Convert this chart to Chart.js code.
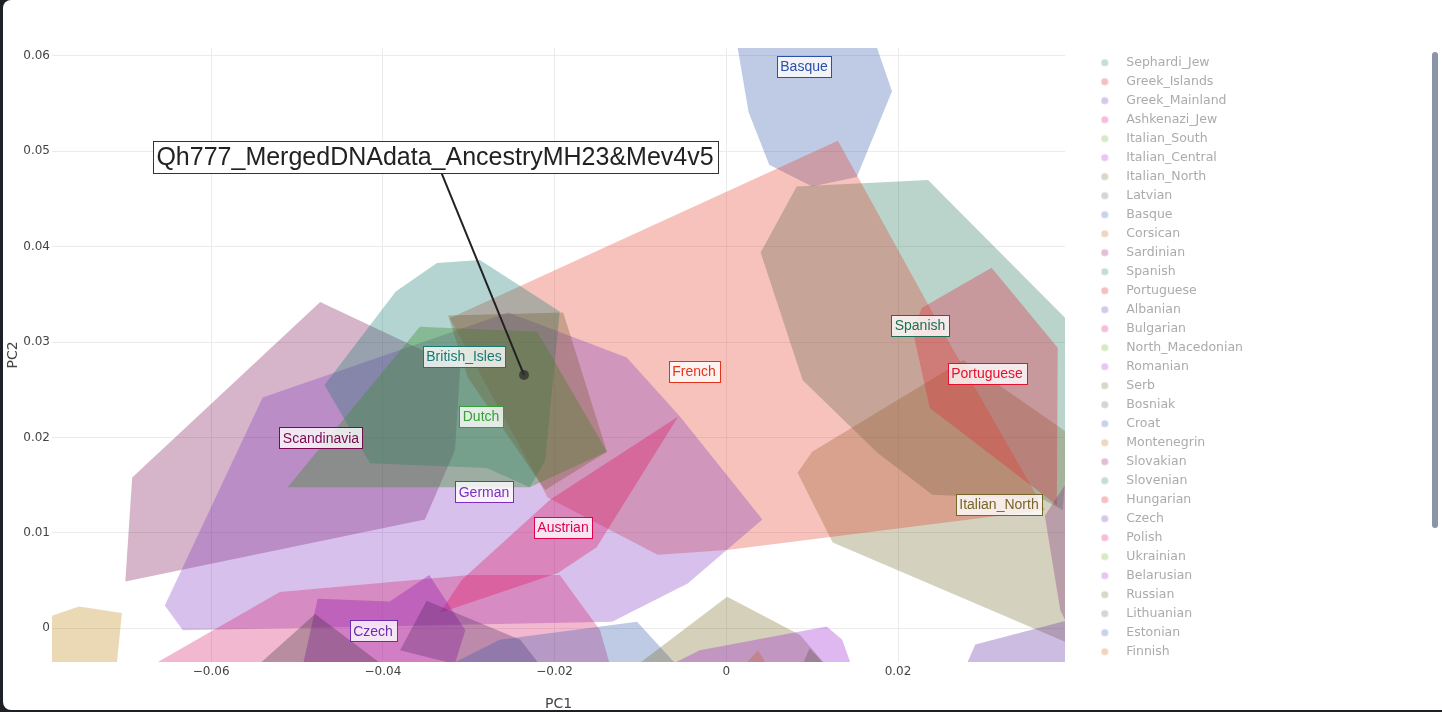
<!DOCTYPE html>
<html>
<head>
<meta charset="utf-8">
<title>PCA hulls</title>
<script src="https://cdn.jsdelivr.net/npm/chart.js@4.4.1/dist/chart.umd.min.js"></script>
<style>
  html, body { margin: 0; padding: 0; background: #1d2025; width: 1442px; height: 712px; overflow: hidden; }
  .card { position: absolute; left: 3px; top: 0; width: 1450px; height: 710px; background: #fff; border-radius: 8px; }
  .scroll { position: absolute; left: 1432px; top: 52px; width: 6px; height: 476px; background: #8b94a8; border-radius: 3px; }
  #chart { position: absolute; left: 0; top: 0; }
</style>
</head>
<body>
<div class="card"></div>
<div class="scroll"></div>
<canvas id="chart" width="1442" height="712"></canvas>
<script>
// axes
const xTicks = [-0.06, -0.04, -0.02, 0, 0.02];
const yTicks = [0, 0.01, 0.02, 0.03, 0.04, 0.05, 0.06];

// legend entries (these traces are switched off, so they show faded)
const legendNames = ['Sephardi_Jew', 'Greek_Islands', 'Greek_Mainland', 'Ashkenazi_Jew', 'Italian_South',
  'Italian_Central', 'Italian_North', 'Latvian', 'Basque', 'Corsican', 'Sardinian', 'Spanish', 'Portuguese',
  'Albanian', 'Bulgarian', 'North_Macedonian', 'Romanian', 'Serb', 'Bosniak', 'Croat', 'Montenegrin',
  'Slovakian', 'Slovenian', 'Hungarian', 'Czech', 'Polish', 'Ukrainian', 'Belarusian', 'Russian',
  'Lithuanian', 'Estonian', 'Finnish'];
const legendPalette = ['#c3ded5', '#f5c0c0', '#d5c8e8', '#f6bddc', '#d5eac7', '#e9c5f3', '#dad7c6',
  '#d5d5d5', '#c8d3ea', '#efd6bf', '#e0c0d6'];

// convex hulls, [PC1, PC2] vertices
const finnishHull = [[-0.0799, 0.0009], [-0.0754, 0.0023], [-0.0704, 0.0016], [-0.0713, -0.0065], [-0.0799, -0.0065]];
const basqueHull = [[0.0008, 0.0636], [0.0165, 0.0636], [0.0193, 0.0563], [0.0152, 0.0473], [0.0100, 0.0463], [0.0050, 0.0486], [0.0026, 0.0541]];
const frenchHull = [[-0.0322, 0.0325], [0.0130, 0.0511], [0.0258, 0.0302], [0.0371, 0.0124], [0.0001, 0.0082], [-0.0080, 0.0077], [-0.0208, 0.0137]];
const spanishHull = [[0.0082, 0.0463], [0.0235, 0.0470], [0.0395, 0.0325], [0.0406, 0.0302], [0.0392, 0.0124], [0.0369, 0.0135], [0.0240, 0.0140], [0.0176, 0.0184], [0.0089, 0.0260], [0.0040, 0.0394]];
const portugueseHull = [[0.0309, 0.0378], [0.0386, 0.0294], [0.0385, 0.0129], [0.0369, 0.0140], [0.0237, 0.0231], [0.0217, 0.0313], [0.0228, 0.0336]];
const italianNorthHull = [[0.0083, 0.0163], [0.0100, 0.0185], [0.0276, 0.0281], [0.0418, 0.0192], [0.0418, -0.0023], [0.0124, 0.0090]];
const britishHull = [[-0.0468, 0.0255], [-0.0385, 0.0353], [-0.0337, 0.0383], [-0.0287, 0.0386], [-0.0194, 0.0332], [-0.0211, 0.0176], [-0.0229, 0.0148], [-0.0279, 0.0168], [-0.0415, 0.0173]];
const dutchHull = [[-0.0511, 0.0148], [-0.0357, 0.0316], [-0.0220, 0.0311], [-0.0139, 0.0185], [-0.0229, 0.0148]];
const oliveMidHull = [[-0.0324, 0.0328], [-0.0190, 0.0331], [-0.0139, 0.0185], [-0.0211, 0.0145], [-0.0301, 0.0263]];
const scandinaviaHull = [[-0.0700, 0.0049], [-0.0692, 0.0158], [-0.0473, 0.0342], [-0.0310, 0.0273], [-0.0316, 0.0187], [-0.0351, 0.0114]];
const germanHull = [[-0.0540, 0.0242], [-0.0254, 0.0331], [-0.0116, 0.0284], [-0.0054, 0.0222], [0.0042, 0.0114], [-0.0045, 0.0047], [-0.0133, 0.0007], [-0.0633, -0.0002], [-0.0654, 0.0024]];
const polishHull = [[-0.0741, -0.0076], [-0.0520, 0.0038], [-0.0299, 0.0056], [-0.0194, 0.0056], [-0.0147, -0.0002], [-0.0124, -0.0075]];
const austrianHull = [[-0.0056, 0.0222], [-0.0151, 0.0085], [-0.0196, 0.0058], [-0.0334, 0.0016], [-0.0308, 0.0051], [-0.0205, 0.0135]];
const czechHull = [[-0.0476, 0.0031], [-0.0392, 0.0028], [-0.0346, 0.0056], [-0.0304, -0.0002], [-0.0322, -0.0054], [-0.0497, -0.0054]];
const darkHullA = [[-0.0578, -0.0065], [-0.0479, 0.0015], [-0.0392, -0.0044]];
const darkHullB = [[-0.0380, -0.0023], [-0.0349, 0.0029], [-0.0240, -0.0012], [-0.0194, -0.0065]];
const blueLowHull = [[-0.0357, -0.0054], [-0.0264, -0.0012], [-0.0104, 0.0007], [-0.0042, -0.0054]];
const oliveLowHull = [[-0.0112, -0.0044], [0.0001, 0.0033], [0.0086, -0.0007], [0.0121, -0.0044]];
const violetLowHull = [[-0.0124, -0.0065], [-0.0031, -0.0023], [0.0117, 0.0002], [0.0135, -0.0012], [0.0156, -0.0065]];
const lavenderRightHull = [[0.0272, -0.0054], [0.0290, -0.0017], [0.0400, 0.0009], [0.0412, -0.0054]];
const mauveRightHull = [[0.0371, 0.0118], [0.0406, 0.0166], [0.0412, -0.0023], [0.0389, 0.0019]];
const orangeLowHull = [[0.0016, -0.0044], [0.0037, -0.0023], [0.0051, -0.0044]];
const grayLowHull = [[0.0086, -0.0044], [0.0097, -0.0021], [0.0121, -0.0044]];

// group labels at hull centroids
const labelNames = ['Basque', 'Spanish', 'Portuguese', 'French', 'British_Isles', 'Dutch', 'German', 'Austrian', 'Scandinavia', 'Czech', 'Italian_North'];
const labelX = [0.00905, 0.02256, 0.03037, -0.00376, -0.03055, -0.02857, -0.02822, -0.01902, -0.04721, -0.04115, 0.03176];
const labelY = [0.05894, 0.03179, 0.02676, 0.02697, 0.02854, 0.02225, 0.01429, 0.01062, 0.01995, -0.00028, 0.01303];

// the sample
const sampleName = 'Qh777_MergedDNAdata_AncestryMH23&Mev4v5';
const samplePC = [-0.02356, 0.02655];

const labelColors = ['#2c50a8', '#1c6f55', '#e3112e', '#e2341d', '#177a72', '#35a035', '#7b2fbe', '#e00050', '#780a50', '#6c2bb5', '#75662a'];

// bottom to top, as the traces were added
const hulls = [
  [finnishHull, 'rgba(190,125,10,0.3)'],
  [basqueHull, 'rgba(44,80,168,0.3)'],
  [spanishHull, 'rgba(28,111,85,0.3)'],
  [italianNorthHull, 'rgba(117,102,42,0.3)'],
  [portugueseHull, 'rgba(227,17,46,0.3)'],
  [frenchHull, 'rgba(226,52,29,0.3)'],
  [scandinaviaHull, 'rgba(120,10,80,0.3)'],
  [germanHull, 'rgba(123,47,190,0.3)'],
  [britishHull, 'rgba(23,122,114,0.32)'],
  [dutchHull, 'rgba(55,140,40,0.36)'],
  [oliveMidHull, 'rgba(110,90,40,0.32)'],
  [polishHull, 'rgba(212,20,100,0.3)'],
  [austrianHull, 'rgba(224,0,80,0.3)'],
  [czechHull, 'rgba(150,25,175,0.36)'],
  [darkHullA, 'rgba(50,40,50,0.3)'],
  [darkHullB, 'rgba(70,30,90,0.3)'],
  [blueLowHull, 'rgba(44,80,168,0.3)'],
  [oliveLowHull, 'rgba(112,98,28,0.3)'],
  [violetLowHull, 'rgba(150,20,210,0.3)'],
  [lavenderRightHull, 'rgba(88,32,155,0.3)'],
  [mauveRightHull, 'rgba(120,40,120,0.3)'],
  [orangeLowHull, 'rgba(200,90,20,0.3)'],
  [grayLowHull, 'rgba(80,70,60,0.3)']
];

const datasets = hulls.map(([pts, color], i) => ({
  data: pts.concat([pts[0]]).map(([x, y]) => ({ x, y })),
  order: hulls.length - i,
  showLine: true,
  fill: 'shape',
  backgroundColor: color,
  borderWidth: 0,
  pointRadius: 0,
  pointHitRadius: 0
}));
const sampleIndex = datasets.length;
datasets.push({
  data: [{ x: samplePC[0], y: samplePC[1] }],
  order: 0,
  pointRadius: 5,
  backgroundColor: 'rgba(45,45,45,0.75)',
  borderWidth: 0
});

// legend marker: a dot placed to the left of a wider image, to get plotly's spacing
function dot(color) {
  const c = document.createElement('canvas');
  c.width = 30; c.height = 12;
  const g = c.getContext('2d');
  g.fillStyle = color;
  g.beginPath(); g.arc(6, 6, 3.6, 0, Math.PI * 2); g.fill();
  return c;
}

const legendFont = { family: '"DejaVu Sans"', size: 12.5 };
const legendPad = 6.5;
const measure = document.createElement('canvas').getContext('2d');
measure.font = '12.5px "DejaVu Sans"';
const maxText = Math.max(...legendNames.map(n => measure.measureText(n).width));
const legendWidth = legendPad + 12.5 + 6.25 + maxText + 10;
const legendLeft = 1101;

function tickText(v) {
  if (Math.abs(v) < 1e-9) return '0';
  return String(+v.toFixed(3)).replace('-', '\u2212');
}

function calloutCenter(chart) {
  const { x, y } = chart.scales;
  const sx = x.getPixelForValue(samplePC[0]);
  const sy = y.getPixelForValue(samplePC[1]);
  return { sx, sy, cx: sx - 89, cy: sy - 218 };
}

const annotate = {
  id: 'annotate',
  // arrow goes under the sample dot but over every hull
  beforeDatasetDraw(chart, args) {
    if (args.index !== sampleIndex) return;
    const { ctx } = chart;
    const { sx, sy, cx, cy } = calloutCenter(chart);
    ctx.save();
    ctx.strokeStyle = '#222';
    ctx.lineWidth = 2;
    ctx.beginPath(); ctx.moveTo(cx, cy); ctx.lineTo(sx, sy); ctx.stroke();
    ctx.restore();
  },
  afterDatasetsDraw(chart) {
    const { ctx, scales: { x, y } } = chart;
    ctx.save();
    ctx.font = '14px "Liberation Sans"';
    ctx.textAlign = 'center';
    ctx.textBaseline = 'middle';
    labelNames.forEach((name, i) => {
      const px = x.getPixelForValue(labelX[i]);
      const py = y.getPixelForValue(labelY[i]);
      const w = Math.round(ctx.measureText(name).width + 7), h = 21;
      const bx = Math.round(px - w / 2) + 0.5, by = Math.round(py - h / 2) + 0.5;
      ctx.fillStyle = 'rgba(255,255,255,0.8)';
      ctx.fillRect(bx, by, w, h);
      ctx.strokeStyle = labelColors[i];
      ctx.lineWidth = 1;
      ctx.strokeRect(bx, by, w, h);
      ctx.fillStyle = labelColors[i];
      ctx.fillText(name, px, py + 1);
    });

    const { cx, cy } = calloutCenter(chart);
    ctx.font = '25px "Liberation Sans"';
    const tw = ctx.measureText(sampleName).width;
    const bw = Math.round(tw + 8), bh = 32;
    const bx = Math.round(cx - bw / 2) + 0.5, by = Math.round(cy - bh / 2) + 0.5;
    ctx.fillStyle = '#fff';
    ctx.fillRect(bx, by, bw, bh);
    ctx.strokeStyle = '#333';
    ctx.lineWidth = 1;
    ctx.strokeRect(bx, by, bw, bh);
    ctx.fillStyle = '#222';
    ctx.fillText(sampleName, cx, cy + 1);
    ctx.restore();
  }
};

new Chart(document.getElementById('chart'), {
  type: 'scatter',
  data: { datasets },
  options: {
    responsive: false,
    animation: false,
    events: [],
    layout: { padding: { left: 0, top: 48, bottom: 0, right: 1442 - legendLeft - legendWidth } },
    scales: {
      x: {
        type: 'linear',
        min: -0.07854,
        max: 0.03945,
        afterFit: s => { s.height = 50; },
        afterBuildTicks: s => { s.ticks = xTicks.map(v => ({ value: v })); },
        grid: { color: '#ebebeb', drawTicks: false },
        border: { display: false },
        ticks: { padding: 3, color: '#444', font: { family: '"DejaVu Sans"', size: 12 }, callback: tickText, maxRotation: 0 },
        title: { display: true, text: 'PC1', color: '#444', font: { family: '"DejaVu Sans"', size: 14 }, padding: { top: 0, bottom: -1 } }
      },
      y: {
        type: 'linear',
        min: -0.00353,
        max: 0.06083,
        afterFit: s => { s.width = 52; },
        afterBuildTicks: s => { s.ticks = yTicks.map(v => ({ value: v })); },
        grid: { color: '#ebebeb', drawTicks: false },
        border: { display: false },
        ticks: { padding: 2, color: '#444', font: { family: '"DejaVu Sans"', size: 12 }, callback: tickText },
        title: { display: true, text: 'PC2', color: '#444', font: { family: '"DejaVu Sans"', size: 14 }, padding: { top: 5, bottom: 0 } }
      },
      gap: {
        type: 'linear',
        position: 'right',
        min: 0,
        max: 1,
        afterFit: s => { s.width = 36; },
        grid: { display: false },
        border: { display: false },
        ticks: { display: false }
      }
    },
    plugins: {
      tooltip: { enabled: false },
      legend: {
        position: 'right',
        align: 'start',
        onClick: null,
        // empty title only nudges the first row down to plotly's offset
        title: { display: true, text: '', padding: 0, font: { size: 1.6 } },
        labels: {
          usePointStyle: true,
          padding: legendPad,
          font: legendFont,
          generateLabels: () => legendNames.map((name, i) => {
            const c = legendPalette[i % legendPalette.length];
            return { text: name, fillStyle: c, strokeStyle: c, lineWidth: 0, pointStyle: dot(c), fontColor: '#ababab', hidden: false };
          })
        }
      }
    }
  },
  plugins: [annotate]
});
</script>
</body>
</html>
